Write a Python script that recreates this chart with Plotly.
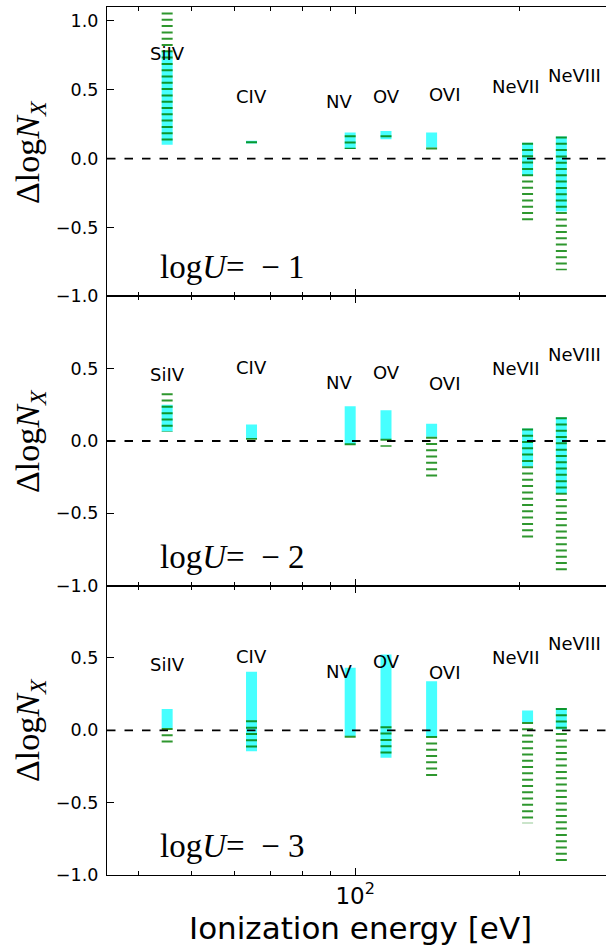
import numpy as np
import plotly.graph_objects as go
from plotly.subplots import make_subplots

# ---------------- data ----------------
ions = ["SiIV", "CIV", "NV", "OV", "OVI", "NeVII", "NeVIII"]
energy_ev = [45.14, 64.49, 97.89, 113.90, 138.12, 207.27, 239.09]
label_ev = [45.3, 64.6, 93.3, 113.9, 146.1, 197.2, 253.2]

logU_values = [-1, -2, -3]

# logU = -1
cyan_lo_u1 = [0.10, 0.11, 0.07, 0.14, 0.08, -0.125, -0.385]
cyan_hi_u1 = [0.78, 0.13, 0.19, 0.20, 0.19, 0.115, 0.16]
green_lo_u1 = [0.10, 0.11, 0.07, 0.14, 0.05, -0.45, -0.81]
green_hi_u1 = [1.06, 0.125, 0.17, 0.17, 0.08, 0.115, 0.16]
label_y_u1 = [0.763, 0.452, 0.416, 0.452, 0.467, 0.525, 0.604]

# logU = -2
cyan_lo_u2 = [0.066, 0.015, -0.024, 0.01, 0.03, -0.175, -0.363]
cyan_hi_u2 = [0.25, 0.114, 0.24, 0.213, 0.12, 0.087, 0.165]
green_lo_u2 = [0.066, 0.008, -0.03, -0.04, -0.265, -0.687, -0.924]
green_hi_u2 = [0.33, 0.02, -0.015, 0.015, 0.03, 0.087, 0.165]
label_y_u2 = [0.458, 0.509, 0.405, 0.474, 0.40, 0.504, 0.597]

# logU = -3
cyan_lo_u3 = [0.017, -0.145, -0.04, -0.19, -0.046, 0.058, 0.005]
cyan_hi_u3 = [0.148, 0.405, 0.432, 0.525, 0.34, 0.137, 0.155]
green_lo_u3 = [-0.092, -0.145, -0.078, -0.19, -0.323, -0.642, -0.92]
green_hi_u3 = [0.017, 0.069, -0.037, 0.028, -0.04, 0.058, 0.155]
label_y_u3 = [0.458, 0.509, 0.405, 0.474, 0.40, 0.504, 0.597]

y_ranges = [[-1.0, 1.1], [-1.0, 1.0], [-1.0, 1.0]]
y_ticks = [[-1.0, -0.5, 0.0, 0.5, 1.0], [-1.0, -0.5, 0.0, 0.5], [-1.0, -0.5, 0.0, 0.5]]
x_range_ev = [35.0, 288.8]
x_major = [100]
x_major_text = ["10<sup>2</sup>"]
x_minor = [40, 50, 60, 70, 80, 90, 200]

panels = [
    (cyan_lo_u1, cyan_hi_u1, green_lo_u1, green_hi_u1, label_y_u1),
    (cyan_lo_u2, cyan_hi_u2, green_lo_u2, green_hi_u2, label_y_u2),
    (cyan_lo_u3, cyan_hi_u3, green_lo_u3, green_hi_u3, label_y_u3),
]

# ---------------- figure ----------------
W, H = 606, 949
ML, MR, MT, MB = 107, 0, 7, 74

fig = make_subplots(rows=3, cols=1, shared_xaxes=True, vertical_spacing=0)

CYAN = "rgba(0,255,255,0.72)"
GREEN = "rgba(0,128,0,0.82)"
SANS = "DejaVu Sans"
SERIF = "Liberation Serif"
NB = "\u00a0"


def segs(xs, lo, hi):
    xx, yy = [], []
    for x, a, b in zip(xs, lo, hi):
        xx += [x, x, None]
        yy += [b, a, None]
    return xx, yy


for r, (clo, chi, glo, ghi, ly) in enumerate(panels, start=1):
    xr = "x" if r == 1 else f"x{r}"
    yr = "y" if r == 1 else f"y{r}"
    cx, cy = segs(energy_ev, clo, chi)
    fig.add_trace(go.Scatter(x=cx, y=cy, mode="lines",
                             line=dict(color=CYAN, width=11),
                             hoverinfo="skip", showlegend=False), row=r, col=1)
    gx, gy = segs(energy_ev, glo, ghi)
    fig.add_trace(go.Scatter(x=gx, y=gy, mode="lines",
                             line=dict(color=GREEN, width=11, dash="2px,4.3px"),
                             hoverinfo="skip", showlegend=False), row=r, col=1)
    # zero line
    fig.add_shape(type="line", xref=f"{xr} domain", yref=yr,
                  x0=0, x1=1, y0=0, y1=0,
                  line=dict(color="black", width=1.8, dash="8.5px,9px"))
    # ion labels
    for name, lx, yv in zip(ions, label_ev, ly):
        fig.add_annotation(x=np.log10(lx), y=yv, xref=xr, yref=yr,
                           text=name, showarrow=False,
                           font=dict(family=SANS, size=18, color="black"),
                           xanchor="center", yanchor="middle")
    # logU label
    fig.add_annotation(x=0.103, y=0.10, xref=f"{xr} domain", yref=f"{yr} domain",
                       text=f"log<i>U</i>={NB}{NB}−{NB}{abs(logU_values[r-1])}",
                       showarrow=False, xanchor="left", yanchor="middle",
                       font=dict(family=SERIF, size=33, color="black"))

    fig.update_xaxes(type="log",
                     range=[np.log10(x_range_ev[0]), np.log10(x_range_ev[1])],
                     showline=True, linecolor="black", linewidth=1.3,
                     mirror="ticks", ticks="inside", ticklen=7, tickwidth=1,
                     tickcolor="black", tickvals=x_major, ticktext=x_major_text,
                     minor=dict(tickvals=x_minor, ticks="inside", ticklen=4,
                                tickwidth=1, tickcolor="black"),
                     showgrid=False, zeroline=False, automargin=False,
                     showticklabels=(r == 3),
                     tickfont=dict(family=SANS, size=23, color="black"),
                     row=r, col=1)
    fig.update_yaxes(range=y_ranges[r-1], tickvals=y_ticks[r-1],
                     ticktext=[("−" if v < 0 else "") + f"{abs(v):.1f}" for v in y_ticks[r-1]],
                     showline=True, linecolor="black", linewidth=1.3,
                     ticks="inside", ticklen=7, tickwidth=1, tickcolor="black",
                     showgrid=False, zeroline=False, ticklabelstandoff=4,
                     automargin=False,
                     tickfont=dict(family=SANS, size=17.5, color="black"),
                     row=r, col=1)

# y labels
plot_w = W - ML - MR
plot_h = H - MT - MB
for pc in [152, 441, 730]:
    fig.add_annotation(x=(30 - ML) / plot_w, y=(H - MB - pc) / plot_h,
                       xref="paper", yref="paper",
                       text="Δlog<i>N</i><sub><i>X</i></sub>",
                       textangle=-90, showarrow=False,
                       xanchor="center", yanchor="middle",
                       font=dict(family=SERIF, size=34, color="black"))

# x title
fig.add_annotation(x=(360 - ML) / plot_w, y=(H - MB - 928) / plot_h,
                   xref="paper", yref="paper",
                   text="Ionization energy [eV]", showarrow=False,
                   xanchor="center", yanchor="middle",
                   font=dict(family=SANS, size=31, color="black"))

fig.update_layout(width=W, height=H,
                  margin=dict(l=ML, r=MR, t=MT, b=MB, autoexpand=False),
                  plot_bgcolor="white", paper_bgcolor="white",
                  showlegend=False)

fig.write_html("out.html", config={"displayModeBar": False},
               post_script="document.body.style.margin='0';document.body.style.overflow='hidden';")
